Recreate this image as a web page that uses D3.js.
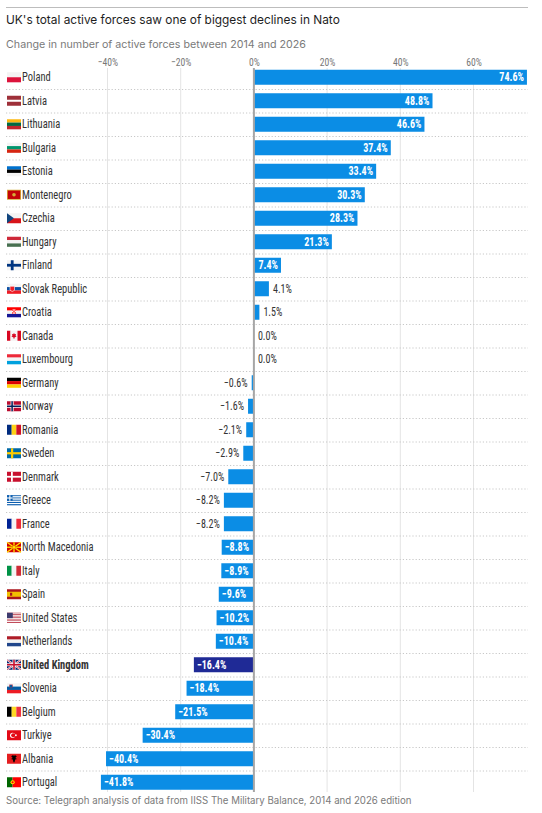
<!DOCTYPE html>
<html>
<head>
<meta charset="utf-8">
<script src="https://cdn.jsdelivr.net/npm/d3@7"></script>
<style>
  html, body { margin: 0; padding: 0; background: #fff; }
  svg { display: block; }
</style>
</head>
<body>
<svg id="chart" width="542" height="813"></svg>
<script>
const countries = ["Poland","Latvia","Lithuania","Bulgaria","Estonia","Montenegro","Czechia","Hungary","Finland","Slovak Republic","Croatia","Canada","Luxembourg","Germany","Norway","Romania","Sweden","Denmark","Greece","France","North Macedonia","Italy","Spain","United States","Netherlands","United Kingdom","Slovenia","Belgium","Turkiye","Albania","Portugal"];
const changes = [74.6,48.8,46.6,37.4,33.4,30.3,28.3,21.3,7.4,4.1,1.5,0.0,0.0,-0.6,-1.6,-2.1,-2.9,-7.0,-8.2,-8.2,-8.8,-8.9,-9.6,-10.2,-10.4,-16.4,-18.4,-21.5,-30.4,-40.4,-41.8];
const highlighted = ["United Kingdom"];
const tickValues = [-40,-20,0,20,40,60];
const titleText = "UK's total active forces saw one of biggest declines in Nato";
const subtitleText = "Change in number of active forces between 2014 and 2026";
const sourceText = "Source: Telegraph analysis of data from IISS The Military Balance, 2014 and 2026 edition";

const data = countries.map((c, i) => ({country: c, value: changes[i]}));

const svg = d3.select("#chart");
const sansFont = "Inter, 'Noto Sans', sans-serif";
const narrowFont = "'Liberation Sans Narrow', 'Roboto Condensed', Roboto, sans-serif";
const squeeze = 0.84;

const x = d3.scaleLinear().domain([-40, 60]).range([107.5, 473.5]);
const y = d3.scaleBand().domain(countries).range([65.5, 65.5 + 23.5 * countries.length]).padding(0);
const barH = 15;
const fmt = v => (v < 0 ? "\u2212" : "") + Math.abs(v).toFixed(1) + "%";

function fitText(sel, target) {
  const node = sel.node();
  const fs = parseFloat(sel.attr("font-size"));
  const len = node.getComputedTextLength();
  if (len > 0) sel.attr("font-size", (fs * target / len).toFixed(2));
}
function narrowText(parent, px, py, str, size) {
  return parent.append("text")
    .attr("transform", `translate(${px},${py}) scale(${squeeze},1)`)
    .attr("font-family", narrowFont).attr("font-size", size).text(str);
}

// top rule
svg.append("line").attr("x1", 6).attr("x2", 528).attr("y1", 7.5).attr("y2", 7.5)
  .attr("stroke", "#bdbdbd").attr("stroke-width", 1);

const title = svg.append("text").attr("x", 6).attr("y", 24).attr("font-family", sansFont)
  .attr("font-size", 14).attr("fill", "#1e1e1e").text(titleText);
fitText(title, 334);

const subtitle = svg.append("text").attr("x", 6).attr("y", 48).attr("font-family", sansFont)
  .attr("font-size", 12).attr("fill", "#7a7a7a").text(subtitleText);
fitText(subtitle, 300);

// vertical grid
const gridTop = 68, gridBottom = 792;
svg.append("g").selectAll("line").data(tickValues.filter(t => t !== 0)).join("line")
  .attr("x1", d => x(d)).attr("x2", d => x(d)).attr("y1", gridTop).attr("y2", gridBottom)
  .attr("stroke", "#e4e4e4").attr("stroke-width", 1);

// axis labels
const axis = d3.axisTop(x).tickValues(tickValues).tickSize(0).tickPadding(0)
  .tickFormat(d => (d < 0 ? "\u2212" : "") + Math.abs(d) + "%");
const axisG = svg.append("g").attr("transform", "translate(0,66)").call(axis);
axisG.select(".domain").remove();
axisG.selectAll("text").attr("font-family", narrowFont).attr("font-size", 11.5)
  .attr("fill", "#777").attr("dy", 0).attr("y", 0).attr("transform", `scale(${squeeze},1)`);

// row separators
svg.append("g").selectAll("line").data(countries.slice(0, -1)).join("line")
  .attr("x1", 6).attr("x2", 528)
  .attr("y1", d => y(d) + y.bandwidth() + 0.5).attr("y2", d => y(d) + y.bandwidth() + 0.5)
  .attr("stroke", "#c8c8c8").attr("stroke-width", 1).attr("stroke-dasharray", "1.2,2");

// bars
svg.append("g").selectAll("rect").data(data.filter(d => d.value !== 0)).join("rect")
  .attr("x", d => Math.min(x(0), x(d.value)))
  .attr("width", d => Math.abs(x(d.value) - x(0)))
  .attr("y", d => y(d.country) + (y.bandwidth() - barH) / 2)
  .attr("height", barH)
  .attr("fill", d => highlighted.includes(d.country) ? "#1f2a96" : "#0b8de5");

// zero line
svg.append("line").attr("x1", x(0)).attr("x2", x(0)).attr("y1", gridTop).attr("y2", gridBottom)
  .attr("stroke", "#a6a6a6").attr("stroke-width", 2);

// value labels
const labG = svg.append("g");
data.forEach(d => {
  const cy = y(d.country) + y.bandwidth() / 2 + 4;
  const w = Math.abs(x(d.value) - x(0));
  const probe = narrowText(labG, 0, 0, fmt(d.value), 12).attr("font-weight", "bold");
  const L = probe.node().getComputedTextLength() * squeeze;
  const inside = L + 7 < w;
  if (inside) {
    const px = d.value > 0 ? x(d.value) - 3 : x(d.value) + 3;
    probe.attr("transform", `translate(${px},${cy}) scale(${squeeze},1)`)
      .attr("text-anchor", d.value > 0 ? "end" : "start").attr("fill", "#fff");
  } else {
    probe.remove();
    const px = d.value >= 0 ? x(d.value) + 4 : x(d.value) - 4;
    narrowText(labG, px, cy, fmt(d.value), 12)
      .attr("text-anchor", d.value >= 0 ? "start" : "end").attr("fill", "#333");
  }
});

// country labels
const cG = svg.append("g");
data.forEach(d => {
  narrowText(cG, 22, y(d.country) + y.bandwidth() / 2 + 4, d.country, 12.5)
    .attr("font-weight", highlighted.includes(d.country) ? "bold" : "normal")
    .attr("fill", "#333");
});

// flags
function R(g, x0, y0, w, h, f) { g.append("rect").attr("x", x0).attr("y", y0).attr("width", w).attr("height", h).attr("fill", f); }
function hStripes(g, cols) { const h = 10 / cols.length; cols.forEach((c, i) => R(g, 0, i * h, 14, h + 0.05, c)); }
function vStripes(g, cols) { const w = 14 / cols.length; cols.forEach((c, i) => R(g, i * w, 0, w + 0.05, 10, c)); }
function nordic(g, bg, c1, c2) {
  R(g, 0, 0, 14, 10, bg);
  R(g, 3.6, 0, 3, 10, c1); R(g, 0, 3.5, 14, 3, c1);
  if (c2) { R(g, 4.35, 0, 1.5, 10, c2); R(g, 0, 4.25, 14, 1.5, c2); }
}
const flagDraw = {
  "Poland": g => hStripes(g, ["#f4f4f4", "#dc143c"]),
  "Latvia": g => { R(g,0,0,14,10,"#9e3039"); R(g,0,4,14,2,"#fff"); },
  "Lithuania": g => hStripes(g, ["#fdb913", "#006a44", "#c1272d"]),
  "Bulgaria": g => hStripes(g, ["#f4f4f4", "#00966e", "#d62612"]),
  "Estonia": g => hStripes(g, ["#0072ce", "#000", "#f4f4f4"]),
  "Montenegro": g => { R(g,0,0,14,10,"#d4af37"); R(g,0.8,0.8,12.4,8.4,"#c40308"); g.append("circle").attr("cx",7).attr("cy",5).attr("r",1.8).attr("fill","#d4af37"); },
  "Czechia": g => { R(g,0,0,14,5,"#f4f4f4"); R(g,0,5,14,5,"#d7141a"); g.append("path").attr("d","M0,0L7,5L0,10Z").attr("fill","#11457e"); },
  "Hungary": g => hStripes(g, ["#ce2939", "#f4f4f4", "#477050"]),
  "Finland": g => { R(g,0,0,14,10,"#f4f4f4"); R(g,3.8,0,2.8,10,"#003580"); R(g,0,3.6,14,2.8,"#003580"); },
  "Slovak Republic": g => { hStripes(g, ["#f4f4f4", "#0b4ea2", "#ee1c25"]); g.append("path").attr("d","M3,2.5H7.5V6.5Q5.25,9 3,6.5Z").attr("fill","#ee1c25").attr("stroke","#fff").attr("stroke-width",0.6); },
  "Croatia": g => { hStripes(g, ["#ff0000", "#f4f4f4", "#171796"]); R(g,5.2,2,3.6,4.5,"#fff"); R(g,5.2,2,1.2,1.5,"#ff0000"); R(g,7.6,2,1.2,1.5,"#ff0000"); R(g,6.4,3.5,1.2,1.5,"#ff0000"); R(g,5.2,5,1.2,1.5,"#ff0000"); R(g,7.6,5,1.2,1.5,"#ff0000"); },
  "Canada": g => { R(g,0,0,3.5,10,"#d80621"); R(g,3.5,0,7,10,"#f4f4f4"); R(g,10.5,0,3.5,10,"#d80621"); g.append("path").attr("d","M7,2.2L7.8,3.6L9,3.2L8.6,5L9.6,5.4L7.3,7V8.2H6.7V7L4.4,5.4L5.4,5L5,3.2L6.2,3.6Z").attr("fill","#d80621"); },
  "Luxembourg": g => hStripes(g, ["#ed2939", "#f4f4f4", "#00a1de"]),
  "Germany": g => hStripes(g, ["#000", "#dd0000", "#ffce00"]),
  "Norway": g => nordic(g, "#ba0c2f", "#fff", "#00205b"),
  "Romania": g => vStripes(g, ["#002b7f", "#fcd116", "#ce1126"]),
  "Sweden": g => { R(g,0,0,14,10,"#006aa7"); R(g,4,0,2.2,10,"#fecc00"); R(g,0,3.9,14,2.2,"#fecc00"); },
  "Denmark": g => { R(g,0,0,14,10,"#c8102e"); R(g,4,0,1.8,10,"#fff"); R(g,0,4.1,14,1.8,"#fff"); },
  "Greece": g => { const h = 10/9; for (let i=0;i<9;i++) R(g,0,i*h,14,h+0.05,i%2?"#fff":"#0d5eaf"); R(g,0,0,5.6,5.56,"#0d5eaf"); R(g,2.3,0,1.1,5.56,"#fff"); R(g,0,2.22,5.6,1.1,"#fff"); },
  "France": g => vStripes(g, ["#002395", "#f4f4f4", "#ed2939"]),
  "North Macedonia": g => { R(g,0,0,14,10,"#d20000"); const rays = g.append("g").attr("stroke","#ffe600").attr("stroke-width",1.3); [[0,0],[14,0],[0,10],[14,10],[7,0],[7,10],[0,5],[14,5]].forEach(p => rays.append("line").attr("x1",7).attr("y1",5).attr("x2",p[0]).attr("y2",p[1])); g.append("circle").attr("cx",7).attr("cy",5).attr("r",1.8).attr("fill","#ffe600").attr("stroke","#d20000").attr("stroke-width",0.4); },
  "Italy": g => vStripes(g, ["#009246", "#f4f4f4", "#ce2b37"]),
  "Spain": g => { R(g,0,0,14,10,"#aa151b"); R(g,0,2.5,14,5,"#f1bf00"); R(g,3,3.5,2.2,3,"#aa151b"); },
  "United States": g => { const h = 10/13; for (let i=0;i<13;i++) R(g,0,i*h,14,h+0.05,i%2?"#fff":"#b22234"); R(g,0,0,5.8,5.4,"#3c3b6e"); },
  "Netherlands": g => hStripes(g, ["#ae1c28", "#f4f4f4", "#21468b"]),
  "United Kingdom": g => { R(g,0,0,14,10,"#012169"); g.append("path").attr("d","M0,0L14,10M14,0L0,10").attr("stroke","#fff").attr("stroke-width",2); g.append("path").attr("d","M0,0L14,10M14,0L0,10").attr("stroke","#c8102e").attr("stroke-width",0.7); R(g,5.5,0,3,10,"#fff"); R(g,0,3.5,14,3,"#fff"); R(g,6.2,0,1.6,10,"#c8102e"); R(g,0,4.2,14,1.6,"#c8102e"); },
  "Slovenia": g => { hStripes(g, ["#f4f4f4", "#005da4", "#ed1c24"]); g.append("path").attr("d","M2.5,1.5H5.5V4Q4,5.8 2.5,4Z").attr("fill","#005da4").attr("stroke","#ed1c24").attr("stroke-width",0.4); },
  "Belgium": g => vStripes(g, ["#000", "#fdda24", "#ef3340"]),
  "Turkiye": g => { R(g,0,0,14,10,"#e30a17"); g.append("circle").attr("cx",5.6).attr("cy",5).attr("r",2.6).attr("fill","#fff"); g.append("circle").attr("cx",6.3).attr("cy",5).attr("r",2.1).attr("fill","#e30a17"); g.append("circle").attr("cx",8.9).attr("cy",5).attr("r",0.9).attr("fill","#fff"); },
  "Albania": g => { R(g,0,0,14,10,"#e41e20"); g.append("path").attr("d","M7,2L8.2,1.5L9.8,2.5L8.3,4.2L10,5.3L8.2,5.8L7.6,8.3L7,8.8L6.4,8.3L5.8,5.8L4,5.3L5.7,4.2L4.2,2.5L5.8,1.5Z").attr("fill","#000"); },
  "Portugal": g => { R(g,0,0,5.6,10,"#006600"); R(g,5.6,0,8.4,10,"#ff0000"); g.append("circle").attr("cx",5.6).attr("cy",5).attr("r",2.1).attr("fill","#ffe000"); g.append("circle").attr("cx",5.6).attr("cy",5).attr("r",1.1).attr("fill","#ff0000"); }
};
const flagG = svg.append("g");
data.forEach(d => {
  const g = flagG.append("g").attr("transform", `translate(7,${y(d.country) + y.bandwidth() / 2 - 5})`);
  flagDraw[d.country](g);
});

// source
const src = svg.append("text").attr("x", 6).attr("y", 804).attr("font-family", sansFont)
  .attr("font-size", 10).attr("fill", "#7a7a7a").text(sourceText);
fitText(src, 406);
</script>
</body>
</html>
